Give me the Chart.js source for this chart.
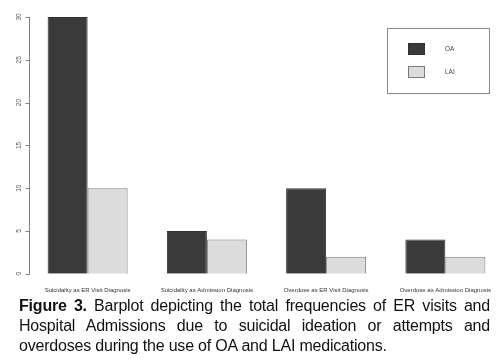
<!DOCTYPE html>
<html><head><meta charset="utf-8">
<script src="https://cdn.jsdelivr.net/npm/chart.js@4/dist/chart.umd.min.js"></script>
<style>
html,body{margin:0;padding:0;background:#fff;width:501px;height:364px;overflow:hidden;}
#wrap{position:absolute;left:0;top:0;width:506px;height:307px;}
#cap{position:absolute;left:19px;top:296px;width:471px;font-family:"Liberation Sans",Arial,sans-serif;font-size:16px;line-height:20px;color:#111;letter-spacing:-0.2px;}
#cap div{white-space:nowrap;}
#cap div.j{text-align:justify;text-align-last:justify;white-space:normal;}
</style></head><body>
<div id="wrap"><canvas id="c" width="506" height="307"></canvas></div>
<div id="cap">
<div class="j"><b>Figure 3.</b> Barplot depicting the total frequencies of ER visits and</div>
<div class="j">Hospital Admissions due to suicidal ideation or attempts and</div>
<div>overdoses during the use of OA and LAI medications.</div>
</div>
<script>
const categories = ["Suicidality as ER Visit Diagnosis","Suicidality as Admission Diagnosis","Overdose as ER Visit Diagnosis","Overdose as Admission Diagnosis"];
const seriesNames = ["OA","LAI"];
const oaValues = [30,5,10,4];
const laiValues = [10,4,2,2];
const yTicks = [0,5,10,15,20,25,30];

const colors = ["#3a3a3a","#dcdcdc"];
const borders = ["#303030","#7a7a7a"];

const axisPlugin = {
  id:'rAxis',
  afterDraw(chart){
    const ctx = chart.ctx, y = chart.scales.y, a = chart.chartArea;
    const x0 = a.left + 1.5;
    ctx.save();
    ctx.strokeStyle = '#808080'; ctx.lineWidth = 1;
    ctx.beginPath();
    ctx.moveTo(x0, y.getPixelForValue(yTicks[0]));
    ctx.lineTo(x0, y.getPixelForValue(yTicks[yTicks.length-1]));
    yTicks.forEach(v=>{const py=Math.round(y.getPixelForValue(v))+0.5; ctx.moveTo(x0,py); ctx.lineTo(x0-4,py);});
    ctx.stroke();
    ctx.fillStyle = '#555'; ctx.font = '6.5px "Liberation Sans", Arial, sans-serif';
    ctx.textAlign='center'; ctx.textBaseline='middle';
    yTicks.forEach(v=>{const py=y.getPixelForValue(v); ctx.save(); ctx.translate(x0-10,py); ctx.rotate(-Math.PI/2); ctx.fillText(String(v),0,0); ctx.restore();});
    // legend
    const lx=387.5, ly=28.5, lw=102, lh=65;
    ctx.strokeStyle='#888'; ctx.strokeRect(lx,ly,lw,lh);
    ctx.textAlign='left';
    seriesNames.forEach((n,i)=>{
      const sy = 43 + i*23;
      ctx.fillStyle=colors[i]; ctx.fillRect(408,sy,17,12);
      ctx.strokeStyle=borders[i]; ctx.strokeRect(408.5,sy+0.5,16,11);
      ctx.fillStyle='#444'; ctx.fillText(n,445,sy+6.5);
    });
    ctx.restore();
  }
};

new Chart(document.getElementById('c'),{
  type:'bar',
  data:{labels:categories,datasets:[
    {label:seriesNames[0],data:oaValues,backgroundColor:colors[0],borderColor:borders[0],borderWidth:1,barPercentage:1,categoryPercentage:0.671},
    {label:seriesNames[1],data:laiValues,backgroundColor:colors[1],borderColor:borders[1],borderWidth:1,barPercentage:1,categoryPercentage:0.671}
  ]},
  options:{
    responsive:false,animation:false,
    layout:{padding:{left:28,top:17,right:1,bottom:0}},
    plugins:{legend:{display:false},tooltip:{enabled:false}},
    scales:{
      x:{grid:{display:false,drawTicks:false},border:{display:false},
         ticks:{autoSkip:false,maxRotation:0,minRotation:0,padding:13,color:'#333',font:{family:'"Liberation Sans", Arial, sans-serif',size:6}}},
      y:{display:false,min:0,max:30}
    }
  },
  plugins:[axisPlugin]
});
</script>
</body></html>
